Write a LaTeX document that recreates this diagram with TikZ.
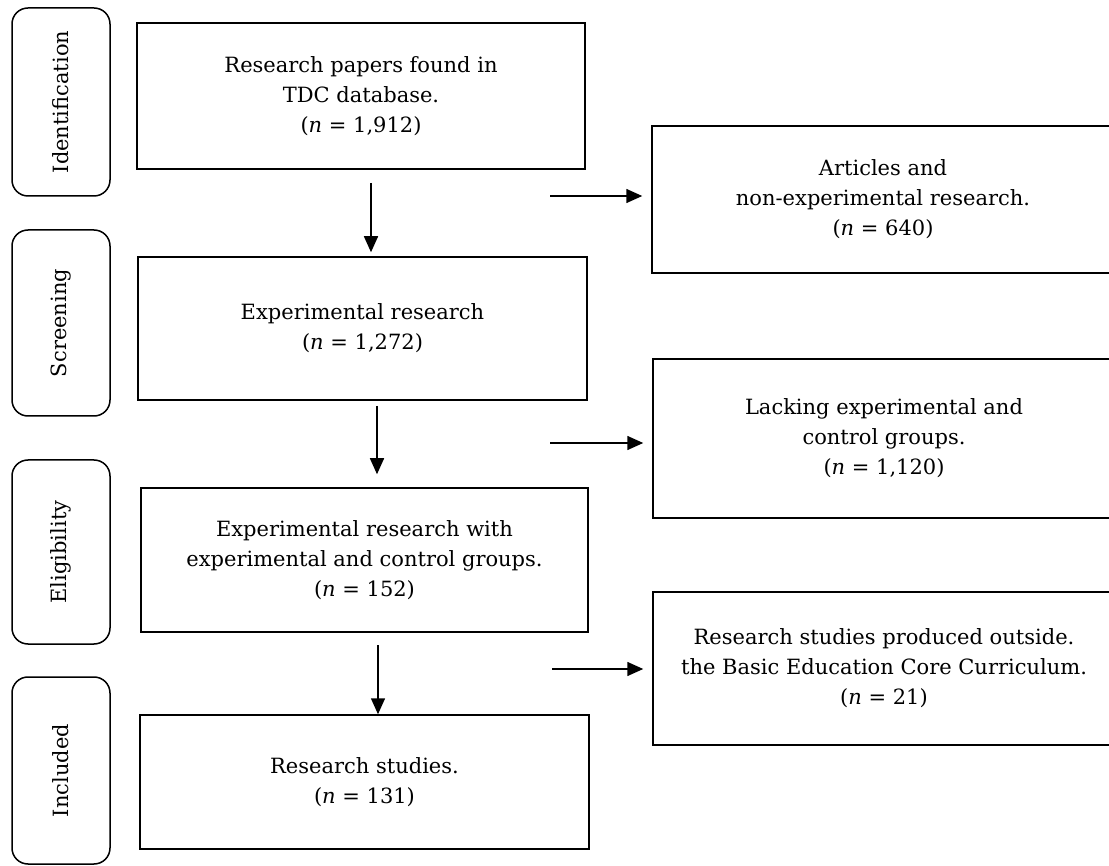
\documentclass[tikz,border=0pt]{standalone}
\usepackage{fontspec}
\setmainfont{DejaVu Serif}
\usetikzlibrary{arrows.meta}
\begin{document}
\begin{tikzpicture}[x=1pt,y=-1pt,
  font=\fontsize{21}{30}\selectfont,
  stage/.style={draw, line width=1.5pt, rounded corners=16pt, rotate=90, minimum height=98pt, inner sep=0pt},
  mainbox/.style={draw, line width=1.5pt, align=center, inner sep=0pt},
  arr/.style={line width=1.5pt, -{Triangle[length=16pt,width=14pt]}}]
\useasboundingbox (0,0) rectangle (1109,866);
\clip (0,0) rectangle (1109,866);
% stage labels
\node[stage, minimum width=188pt] (s1) at (61,102) {Identification};
\node[stage, minimum width=186pt] (s2) at (61,323) {Screening};
\node[stage, minimum width=184pt] (s3) at (61,552) {Eligibility};
\node[stage, minimum width=187pt] (s4) at (61,770.5) {Included};
% main column
\node[mainbox, minimum width=448pt, minimum height=146pt] (b1) at (361,96) {Research papers found in\\TDC database.\\(\textit{n} = 1,912)};
\node[mainbox, minimum width=449pt, minimum height=143pt] (b2) at (362.5,328.5) {Experimental research\\(\textit{n} = 1,272)};
\node[mainbox, minimum width=447pt, minimum height=144pt] (b3) at (364.5,560) {Experimental research with\\experimental and control groups.\\(\textit{n} = 152)};
\node[mainbox, minimum width=449pt, minimum height=134pt] (b4) at (364.5,782) {Research studies.\\(\textit{n} = 131)};
% excluded column
\node[mainbox, minimum width=462pt, minimum height=147pt] (r1) at (883,199.5) {Articles and\\non-experimental research.\\(\textit{n} = 640)};
\node[mainbox, minimum width=462pt, minimum height=159pt] (r2) at (884,438.5) {Lacking experimental and\\control groups.\\(\textit{n} = 1,120)};
\node[mainbox, minimum width=462pt, minimum height=153pt] (r3) at (884,668.5) {Research studies produced outside.\\the Basic Education Core Curriculum.\\(\textit{n} = 21)};
% arrow start points
\coordinate (a1) at (371,183);
\coordinate (a2) at (377,406);
\coordinate (a3) at (378,645);
\coordinate (h1) at (550,196);
\coordinate (h2) at (550,443);
\coordinate (h3) at (552,669);
% arrows
\draw[arr, shorten >=4pt] (a1) -- (a1 |- b2.north);
\draw[arr, shorten >=13pt] (a2) -- (a2 |- b3.north);
\draw[arr] (a3) -- (a3 |- b4.north);
\draw[arr, shorten >=9pt] (h1) -- (h1 -| r1.west);
\draw[arr, shorten >=9pt] (h2) -- (h2 -| r2.west);
\draw[arr, shorten >=9pt] (h3) -- (h3 -| r3.west);
\end{tikzpicture}
\end{document}
